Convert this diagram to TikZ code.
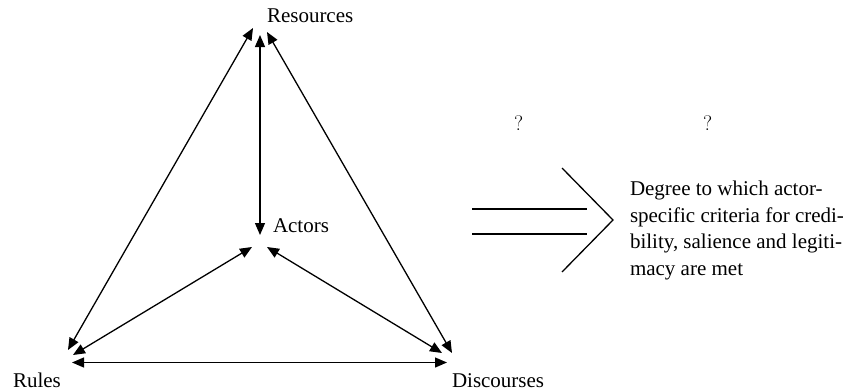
\documentclass[tikz,border=0pt]{standalone}
\usepackage{fontspec}
\setmainfont{Liberation Serif}
\newfontfamily\lmqfont{Latin Modern Roman}
\usetikzlibrary{arrows.meta}
\tikzset{
  lbl/.style={anchor=base west, inner sep=0pt, outer sep=0pt, font=\fontsize{21}{26}\selectfont},
  qlbl/.style={anchor=base west, inner sep=0pt, outer sep=0pt, font=\lmqfont\fontsize{21}{24}\selectfont},
  rel/.style={line width=1.3pt, {Triangle[length=12pt,width=10pt]}-{Triangle[length=12pt,width=10pt]}},
  bigarrow/.style={line width=1.3pt}
}
\begin{document}
\begin{tikzpicture}[x=1pt,y=-1pt]
\useasboundingbox (0,0) rectangle (847,391);
% labels
\node[lbl] (res) at (267,22) {Resources};
\node[lbl] (act) at (273,232) {Actors};
\node[lbl] (rul) at (13,387) {Rules};
\node[lbl] (dis) at (452,387) {Discourses};
\node[qlbl] (q1) at (514,130) {?};
\node[qlbl] (q2) at (703,130) {?};
\node[lbl] (d1) at (630,195.5) {Degree to which actor-};
\node[lbl] (d2) at (630,222) {specific criteria for credi-};
\node[lbl] (d3) at (630,248.5) {bility, salience and legiti-};
\node[lbl] (d4) at (630,275) {macy are met};
% arrow end points
\coordinate (resL) at (253,28);
\coordinate (resM) at (260,35);
\coordinate (resR) at (267,32);
\coordinate (actT) at (260,235);
\coordinate (actL) at (252,247);
\coordinate (actR) at (267,247);
\coordinate (rulT) at (68,350);
\coordinate (rulM) at (73,355);
\coordinate (rulB) at (72,362.5);
\coordinate (disL) at (442,353);
\coordinate (disR) at (452,353);
\coordinate (disB) at (447,362.5);
% relations
\draw[rel] (rulT) -- (resL);
\draw[rel] (actT) -- (resM);
\draw[rel] (disR) -- (resR);
\draw[rel] (rulM) -- (actL);
\draw[rel] (disL) -- (actR);
\draw[rel] (rulB) -- (disB);
% big double arrow
\coordinate (l1a) at (472,209);
\coordinate (l1b) at (587,209);
\coordinate (l2a) at (472,234);
\coordinate (l2b) at (587,234);
\coordinate (cTop) at (562,168);
\coordinate (cTip) at (613,220);
\coordinate (cBot) at (562,272);
\draw[bigarrow] (l1a) -- (l1b);
\draw[bigarrow] (l2a) -- (l2b);
\draw[bigarrow] (cTop) -- (cTip) -- (cBot);
\end{tikzpicture}
\end{document}
